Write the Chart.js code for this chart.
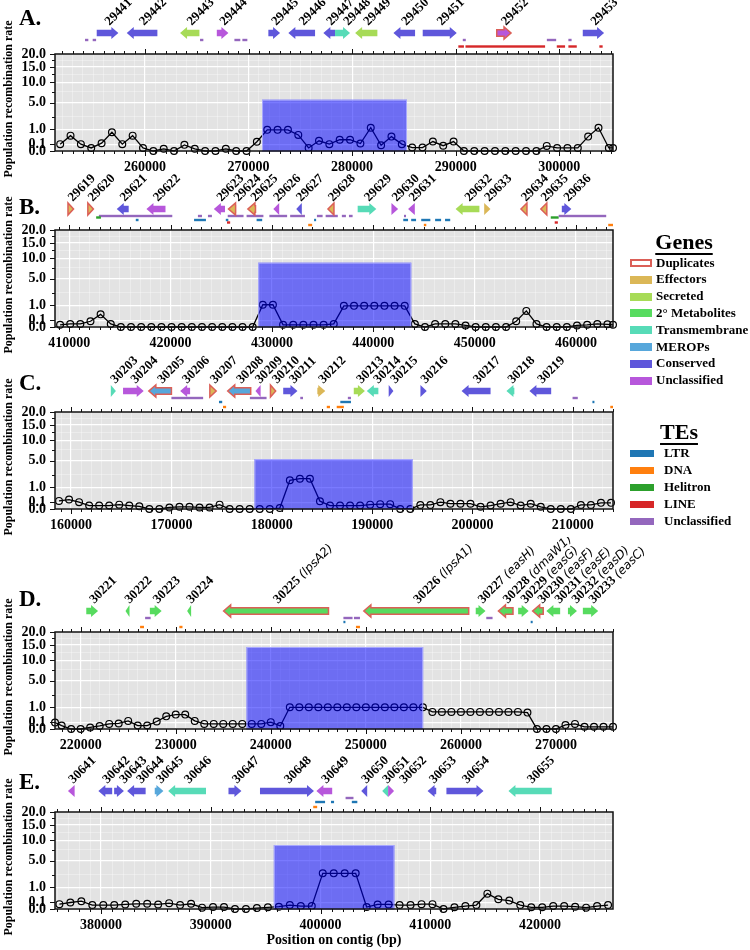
<!DOCTYPE html>
<html>
<head>
<meta charset="utf-8">
<title>Population recombination rate</title>
<script src="https://cdn.jsdelivr.net/npm/chart.js@4.4.1/dist/chart.umd.min.js"></script>
<style>
html,body{margin:0;padding:0;background:#fff;}
body{position:relative;width:750px;height:950px;overflow:hidden;font-family:'Liberation Serif','Times New Roman',serif;color:#000;}
canvas{position:absolute;left:0;}
.letter{position:absolute;left:19px;font-weight:bold;font-size:23px;line-height:23px;}
.ytitle{position:absolute;width:180px;height:14px;line-height:14px;font-weight:bold;font-size:12px;text-align:center;transform:rotate(-90deg);white-space:nowrap;}
.lg-head{position:absolute;width:110px;text-align:center;font-weight:bold;font-size:22px;line-height:22px;text-decoration:underline;text-underline-offset:4px;text-decoration-thickness:1.5px;}
.lg-item{position:absolute;font-weight:bold;font-size:13px;line-height:14px;white-space:nowrap;}
.sw{position:absolute;box-sizing:border-box;}
</style>
</head>
<body>
<script>
// ---------------- DATA ----------------
const A_pos = [251800,252800,253800,254800,255800,256800,257800,258800,259800,260800,
261800,262800,263800,264800,265800,266800,267800,268800,269800,270800,
271800,272800,273800,274800,275800,276800,277800,278800,279800,280800,
281800,282800,283800,284800,285800,286800,287800,288800,289800,290800,
291800,292800,293800,294800,295800,296800,297800,298800,299800,300800,
301800,302800,303800,304800,305200];
const A_rate = [0.10,0.50,0.10,0.02,0.13,0.75,0.10,0.50,0.02,0.00,
0.01,0.00,0.08,0.01,0.00,0.00,0.01,0.00,0.00,0.18,
0.95,0.95,0.95,0.55,0.02,0.22,0.10,0.27,0.27,0.12,
1.15,0.07,0.44,0.10,0.025,0.025,0.19,0.06,0.19,0,
0,0,0,0,0,0,0,0.055,0.02,0.02,
0.02,0.44,1.15,0.02,0.02];
const A_region = [271300, 285300, 5.6];

const B_pos = [409100,410100,411100,412100,413100,414100,415100,416100,417100,418100,
419100,420100,421100,422100,423100,424100,425100,426100,427100,428100,
429100,430100,431100,432100,433100,434100,435100,436100,437100,438100,
439100,440100,441100,442100,443100,444100,445100,446100,447100,448100,
449100,450100,451100,452100,453100,454100,455100,456100,457100,458100,
459100,460100,461100,462100,463100,463650];
const B_rate = [0.01,0.02,0.02,0.07,0.34,0.02,0,0,0,0,
0,0,0,0,0,0,0,0,0,0,
1.05,1.05,0.01,0.01,0.01,0.01,0.01,0.02,0.95,0.95,
0.95,0.95,0.95,0.95,0.95,0.02,0,0.02,0.02,0.02,
0.005,0,0,0,0,0.07,0.55,0.02,0,0,
0,0.005,0.01,0.02,0.015,0.01];
const B_region = [428650, 443750, 8.8];

const C_pos = [158800,159800,160800,161800,162800,163800,164800,165800,166800,167800,
168800,169800,170800,171800,172800,173800,174800,175800,176800,177800,
178800,179800,180800,181800,182800,183800,184800,185800,186800,187800,
188800,189800,190800,191800,192800,193800,194800,195800,196800,197800,
198800,199800,200800,201800,202800,203800,204800,205800,206800,207800,
208800,209800,210800,211800,212800,213800];
const C_rate = [0.14,0.19,0.10,0.025,0.025,0.025,0.04,0.025,0.015,0,
0,0.005,0.01,0.01,0.005,0.005,0.04,0,0,0,
0,0,0.002,1.75,1.95,1.95,0.13,0.025,0.025,0.025,
0.025,0.04,0.05,0.05,0,0,0.035,0.035,0.10,0.06,
0.06,0.06,0.01,0.025,0.06,0.10,0.025,0.06,0.01,0,
0,0,0.035,0.035,0.08,0.08];
const C_region = [178270, 194050, 5.3];

const D_pos = [217300,218000,219000,220000,221000,222000,223000,224000,225000,226000,
227000,228000,229000,230000,231000,232000,233000,234000,235000,236000,
237000,238000,239000,240000,241000,242000,243000,244000,245000,246000,
247000,248000,249000,250000,251000,252000,253000,254000,255000,256000,
257000,258000,259000,260000,261000,262000,263000,264000,265000,266000,
267000,268000,269000,270000,271000,272000,273000,274000,275000,276000];
const D_rate = [0.09,0.025,0,0,0.005,0.02,0.055,0.065,0.14,0.025,
0.025,0.12,0.34,0.44,0.44,0.14,0.055,0.055,0.055,0.055,
0.055,0.055,0.055,0.10,0.02,1.0,1.0,1.0,1.0,1.0,
1.0,1.0,1.0,1.0,1.0,1.0,1.0,1.0,1.0,1.0,
0.62,0.62,0.62,0.62,0.62,0.62,0.62,0.62,0.62,0.62,
0.57,0,0,0,0.035,0.055,0.01,0.01,0.01,0.01];
const D_region = [237440, 256030, 14.3];

const E_pos = [376200,377200,378200,379200,380200,381200,382200,383200,384200,385200,
386200,387200,388200,389200,390200,391200,392200,393200,394200,395200,
396200,397200,398200,399200,400200,401200,402200,403200,404200,405200,
406200,407200,408200,409200,410200,411200,412200,413200,414200,415200,
416200,417200,418200,419200,420200,421200,422200,423200,424200,425200,
426200];
const E_rate = [0.05,0.09,0.13,0.033,0.033,0.033,0.044,0.058,0.058,0.044,
0.073,0.033,0.058,0.004,0.008,0.008,0,0,0.002,0.006,
0.011,0.033,0.018,0.018,2.7,2.7,2.7,2.7,0.008,0.044,
0.044,0.033,0.033,0.05,0.05,0,0.006,0.018,0.033,0.5,
0.2,0.15,0.033,0.006,0.006,0.018,0.018,0.011,0.004,0.018,
0.033];
const E_region = [395740, 406730, 8.7];

// genes: [label, start, end, strand, class, duplicate, name]
const A_genes = [
 ['29441',255330,257420,1,'Conserved',0],['29442',258230,261190,-1,'Conserved',0],
 ['29443',263380,265250,-1,'Secreted',0],['29444',266930,268050,1,'Unclassified',0],
 ['29445',271910,273040,1,'Conserved',0],['29446',273840,276420,-1,'Conserved',0],
 ['29447',277220,278350,-1,'Conserved',0],['29448',278350,279800,1,'Transmembrane',0],
 ['29449',280290,282440,-1,'Secreted',0],['29450',283990,286080,-1,'Conserved',0],
 ['29451',286820,290110,1,'Conserved',0],['29452',293970,295350,1,'Unclassified',1],
 ['29453',302280,304340,1,'Conserved',0]];
const A_tes = [
 ['Unclassified',254200,254520],['Unclassified',254940,255270],['Unclassified',265310,265630],
 ['Unclassified',268630,269200],['Unclassified',269400,269880],['Unclassified',290690,290980],
 ['LINE',290260,290800],['LINE',290950,298640],['Unclassified',298810,299710],
 ['LINE',299770,300570],['LINE',300890,301700],['Unclassified',300890,301200],['LINE',303880,304200]];

const B_genes = [
 ['29619',409880,410430,1,'Effectors',1],['29620',411840,412390,1,'Effectors',1],
 ['29621',414690,415870,-1,'Conserved',0],['29622',417620,419500,-1,'Unclassified',0],
 ['29623',424270,425370,-1,'Unclassified',0],['29624',425720,426420,-1,'Effectors',1],
 ['29625',427630,428380,-1,'Effectors',1],['29626',430140,430720,-1,'Unclassified',0],
 ['29627',432400,432950,-1,'Conserved',0],['29628',435530,436120,-1,'Effectors',1],
 ['29629',438460,440300,1,'Transmembrane',0],['29630',441790,442450,1,'Unclassified',0],
 ['29631',443430,444100,-1,'Unclassified',0],['29632',448120,450470,-1,'Secreted',0],
 ['29633',450940,451560,1,'Effectors',0],['29634',454570,455160,-1,'Effectors',1],
 ['29635',456530,457120,-1,'Effectors',1],['29636',458600,459540,1,'Conserved',0]];
const B_tes = [
 ['Unclassified',412930,420170],['Helitron',412660,413130],['LTR',416570,416840],
 ['Unclassified',422700,423100],['Unclassified',423690,424080],['LTR',422320,423490],
 ['LTR',425450,425700],['LINE',425570,425880],['Unclassified',425640,427200],
 ['Unclassified',427500,429160],['LTR',428490,429040],['Unclassified',429750,431500],
 ['Unclassified',431800,433260],['DNA',433580,433970],['LTR',434160,434360],
 ['Unclassified',434440,435000],['Unclassified',435300,436500],['Unclassified',436900,437300],
 ['Unclassified',437600,437960],['Unclassified',443030,443230],['LTR',442960,443430],
 ['LTR',443740,444220],['LTR',444730,445630],['LTR',446100,446690],['LTR',447080,447590],
 ['DNA',444990,445230],['Helitron',457510,458290],['LINE',457900,458210],
 ['Unclassified',458290,462980],['DNA',463180,463650]];

const C_genes = [
 ['30203',163960,164470,1,'Transmembrane',0],['30204',165180,167240,1,'Unclassified',0],
 ['30205',167750,170000,-1,'MEROPs',1],['30206',170870,171860,-1,'Unclassified',0],
 ['30207',173830,174460,1,'Effectors',1],['30208',175610,177900,-1,'MEROPs',1],
 ['30209',178370,178890,-1,'Unclassified',0],['30210',179870,180390,1,'Effectors',1],
 ['30211',181140,182560,1,'Conserved',0],['30212',184540,185330,1,'Effectors',0],
 ['30213',188170,189280,1,'Secreted',0],['30214',189470,190620,-1,'Transmembrane',0],
 ['30215',191650,192120,1,'Conserved',0],['30216',194810,195440,1,'Conserved',0],
 ['30217',198910,201800,-1,'Conserved',0],['30218',203380,204170,-1,'Transmembrane',0],
 ['30219',205670,207840,-1,'Conserved',0]];
const C_tes = [
 ['Unclassified',170000,173160],['LTR',174740,175060],['DNA',175140,175450],
 ['Unclassified',177820,179480],['Unclassified',182840,183110],['DNA',185480,185800],
 ['DNA',186470,187180],['LTR',186830,187890],['Unclassified',187580,187890],
 ['Unclassified',209970,210490],['LTR',211950,212110],['DNA',213730,214000]];

const D_genes = [
 ['30221',220590,221830,1,'Metabolites',0,''],['30222',224720,225130,-1,'Metabolites',0,''],
 ['30223',227280,228520,1,'Metabolites',0,''],['30224',231200,231620,-1,'Metabolites',0,''],
 ['30225',235040,246070,-1,'Metabolites',1,'lpsA2'],['30226',249790,260820,-1,'Metabolites',1,'lpsA1'],
 ['30227',261560,262590,1,'Metabolites',0,'easH'],['30228',263950,265480,-1,'Metabolites',1,'dmaW1'],
 ['30229',266020,267130,1,'Metabolites',0,'easG'],['30230',267550,268660,-1,'Metabolites',1,'easF'],
 ['30231',268990,270440,-1,'Metabolites',0,'easE'],['30232',271260,272210,1,'Metabolites',0,'easD'],
 ['30233',272830,274440,1,'Metabolites',0,'easC']];
const D_tes = [
 ['Unclassified',226780,227360],['DNA',226250,226660],['DNA',230380,230710],
 ['Unclassified',247640,248600],['Unclassified',248750,249380],['LTR',247640,247800],
 ['DNA',248960,249380],['Unclassified',262670,263330],['LTR',267340,267510]];

const E_genes = [
 ['30641',376980,377590,-1,'Unclassified',0],['30642',379750,381010,-1,'Conserved',0],
 ['30643',381190,382080,1,'Conserved',0],['30644',382370,384060,-1,'Conserved',0],
 ['30645',384890,385680,1,'MEROPs',0],['30646',386110,389560,-1,'Transmembrane',0],
 ['30647',391610,392790,1,'Conserved',0],['30648',394480,399400,1,'Conserved',0],
 ['30649',399620,401060,-1,'Unclassified',0],['30650',403710,404250,-1,'Conserved',0],
 ['30651',405620,406160,-1,'Transmembrane',0],['30652',406160,406700,1,'Unclassified',0],
 ['30653',409750,410540,-1,'Conserved',0],['30654',411470,414850,1,'Conserved',0],
 ['30655',417120,421070,-1,'Transmembrane',0]];
const E_tes = [
 ['LTR',399510,400410],['LTR',400950,401230],['DNA',399330,399690],
 ['Unclassified',402280,403000],['LTR',402850,403350]];

const Y_TICKS = [0, 0.1, 1, 2.5, 5, 7.5, 10, 12.5, 15, 17.5, 20];
const Y_LABELED = [0, 0.1, 1, 5, 10, 15, 20];

const GENE_LEGEND = ['Duplicates','Effectors','Secreted','2° Metabolites','Transmembrane','MEROPs','Conserved','Unclassified'];
const TE_LEGEND = ['LTR','DNA','Helitron','LINE','Unclassified'];

// ---------------- STYLE ----------------
const GENE_COLORS = {Effectors:'#dbb757', Secreted:'#a7db57', Metabolites:'#57db5f',
  Transmembrane:'#57dbb7', MEROPs:'#57a7db', Conserved:'#5f57db', Unclassified:'#b757db'};
const GENE_LEGEND_COLORS = [null,'#dbb757','#a7db57','#57db5f','#57dbb7','#57a7db','#5f57db','#b757db'];
const DUP_COLOR = '#db5f57';
const TE_COLORS = {LTR:'#1f77b4', DNA:'#ff7f0e', Helitron:'#2ca02c', LINE:'#d62728', Unclassified:'#9467bd'};
const TE_ROW = {Unclassified:7, Helitron:8.5, LTR:11, LINE:13.5, DNA:16};
const SERIF = "'Liberation Serif','Times New Roman',serif";
const PLOT_H = 97;

// ---------------- SQRT SCALE ----------------
class SqrtScale extends Chart.LinearScale {
  getPixelForValue(value) {
    const a = Math.sqrt(Math.max(this.min, 0)), b = Math.sqrt(this.max);
    const v = Math.sqrt(Math.max(0, +value || 0));
    return this.getPixelForDecimal((v - a) / (b - a));
  }
  getValueForPixel(pixel) {
    const a = Math.sqrt(Math.max(this.min, 0)), b = Math.sqrt(this.max);
    const s = a + this.getDecimalForPixel(pixel) * (b - a);
    return s * s;
  }
}
SqrtScale.id = 'sqrt';
SqrtScale.defaults = Chart.LinearScale.defaults;
Chart.register(SqrtScale);

// ---------------- DRAW HELPERS ----------------
function drawArrow(ctx, x0, x1, yc, strand, fill, dup) {
  let len = x1 - x0;
  if (len < 4) { const c = (x0 + x1) / 2; x0 = c - 2; x1 = c + 2; len = 4; }
  const head = Math.min(7, len), bh = 3.3, hh = 6;
  ctx.beginPath();
  if (strand > 0) {
    const hx = x1 - head;
    ctx.moveTo(x0, yc - bh); ctx.lineTo(hx, yc - bh); ctx.lineTo(hx, yc - hh);
    ctx.lineTo(x1, yc); ctx.lineTo(hx, yc + hh); ctx.lineTo(hx, yc + bh); ctx.lineTo(x0, yc + bh);
  } else {
    const hx = x0 + head;
    ctx.moveTo(x1, yc - bh); ctx.lineTo(hx, yc - bh); ctx.lineTo(hx, yc - hh);
    ctx.lineTo(x0, yc); ctx.lineTo(hx, yc + hh); ctx.lineTo(hx, yc + bh); ctx.lineTo(x1, yc + bh);
  }
  ctx.closePath();
  ctx.fillStyle = fill; ctx.fill();
  if (dup) { ctx.strokeStyle = DUP_COLOR; ctx.lineWidth = 1.5; ctx.stroke(); }
}

function decoPlugin(p) {
  return {
    id: 'deco' + p.key,
    beforeDraw(chart) {
      const {ctx, chartArea: a} = chart;
      ctx.save(); ctx.fillStyle = '#e3e3e3';
      ctx.fillRect(a.left, a.top, a.right - a.left, a.bottom - a.top); ctx.restore();
    },
    afterDatasetsDraw(chart) {
      const {ctx, chartArea: a, scales: {x, y}} = chart;
      ctx.save();
      // highlighted region
      const rx0 = x.getPixelForValue(p.region[0]), rx1 = x.getPixelForValue(p.region[1]);
      const ry = y.getPixelForValue(p.region[2]), rb = y.getPixelForValue(0);
      ctx.fillStyle = 'rgba(0,0,255,0.52)';
      ctx.fillRect(rx0, ry, rx1 - rx0, rb - ry);
      ctx.strokeStyle = 'rgba(175,175,255,0.9)'; ctx.lineWidth = 1;
      ctx.strokeRect(rx0 + 0.5, ry + 0.5, rx1 - rx0 - 1, rb - ry);
      // frame
      ctx.strokeStyle = '#111'; ctx.lineWidth = 1.5;
      ctx.strokeRect(a.left, a.top, a.right - a.left, a.bottom - a.top);
      // ticks
      ctx.lineWidth = 1; ctx.beginPath();
      x.ticks.forEach(t => {
        const px = Math.round(x.getPixelForValue(t.value)) + 0.5;
        const L = t.value % 10000 === 0 ? 5 : 3;
        ctx.moveTo(px, a.top); ctx.lineTo(px, a.top - L);
        ctx.moveTo(px, a.bottom); ctx.lineTo(px, a.bottom + L);
      });
      Y_TICKS.forEach(v => {
        const py = Math.round(y.getPixelForValue(v)) + 0.5;
        const L = Y_LABELED.includes(v) ? 5 : 3;
        ctx.moveTo(a.left, py); ctx.lineTo(a.left - L, py);
      });
      ctx.stroke();
      // gene track
      const ay = a.top - 21;
      p.tes.forEach(([cls, s, e]) => {
        const x0 = x.getPixelForValue(s), x1 = Math.min(x.getPixelForValue(e), a.right + 2);
        ctx.fillStyle = TE_COLORS[cls];
        ctx.fillRect(x0, ay + TE_ROW[cls] - 1.2, Math.max(2, x1 - x0), 2.4);
      });
      const items = p.genes.map(g => ({g, x0: x.getPixelForValue(g[1]), x1: x.getPixelForValue(g[2])}))
        .sort((m, n) => (m.x0 + m.x1) - (n.x0 + n.x1));
      items.forEach(it => drawArrow(ctx, it.x0, it.x1, ay, it.g[3], GENE_COLORS[it.g[4]], it.g[5]));
      let prev = -1e9;
      ctx.fillStyle = '#000'; ctx.textAlign = 'left'; ctx.textBaseline = 'alphabetic';
      items.forEach(it => {
        const c = (it.x0 + it.x1) / 2 + 2;
        const lx = Math.max(c, prev + 17); prev = lx;
        ctx.save();
        ctx.translate(lx, ay - 7); ctx.rotate(-Math.PI / 4);
        ctx.font = 'bold 13px ' + SERIF;
        ctx.fillText(it.g[0], 0, 0);
        if (it.g[6]) {
          const w = ctx.measureText(it.g[0] + ' ').width;
          ctx.font = "italic 12px 'DejaVu Sans', sans-serif";
          ctx.fillText('(' + it.g[6] + ')', w, 0);
        }
        ctx.restore();
      });
      ctx.restore();
    }
  };
}

// ---------------- PANELS ----------------
const PANELS = [
  {key:'A', pos:A_pos, rate:A_rate, region:A_region, genes:A_genes, tes:A_tes, xmin:251300, xmax:305200, top:54,  pad:54, xh:26, letterY:17},
  {key:'B', pos:B_pos, rate:B_rate, region:B_region, genes:B_genes, tes:B_tes, xmin:408600, xmax:463650, top:230, pad:80, xh:26, letterY:206},
  {key:'C', pos:C_pos, rate:C_rate, region:C_region, genes:C_genes, tes:C_tes, xmin:158400, xmax:214000, top:412, pad:80, xh:26, letterY:382},
  {key:'D', pos:D_pos, rate:D_rate, region:D_region, genes:D_genes, tes:D_tes, xmin:217300, xmax:276000, top:632, pad:95, xh:26, letterY:598},
  {key:'E', pos:E_pos, rate:E_rate, region:E_region, genes:E_genes, tes:E_tes, xmin:375800, xmax:426650, top:812, pad:80, xh:40, letterY:781, xtitle:true}
];

function buildPanel(p) {
  const H = p.pad + PLOT_H + p.xh;
  const cv = document.createElement('canvas');
  cv.width = 750; cv.height = H;
  cv.style.width = '750px'; cv.style.height = H + 'px';
  cv.style.top = (p.top - p.pad) + 'px';
  document.body.appendChild(cv);

  const tickFont = {family: SERIF, weight: 'bold', size: 14};
  new Chart(cv, {
    type: 'line',
    data: {datasets: [{
      data: p.pos.map((xv, i) => ({x: xv, y: p.rate[i]})),
      borderColor: '#000', borderWidth: 1.3, tension: 0, fill: false,
      pointRadius: 3.4, pointBorderWidth: 1.2, pointBorderColor: '#000',
      pointBackgroundColor: 'rgba(0,0,0,0)', clip: false
    }]},
    options: {
      responsive: false, animation: false, events: [],
      layout: {padding: {top: p.pad, left: 0, right: 137, bottom: 0}},
      plugins: {legend: {display: false}, tooltip: {enabled: false}, title: {display: false}},
      scales: {
        x: {
          type: 'linear', min: p.xmin, max: p.xmax,
          afterBuildTicks: s => {
            const t = [];
            for (let v = Math.ceil(p.xmin / 1000) * 1000; v <= p.xmax; v += 1000) t.push({value: v});
            s.ticks = t;
          },
          afterFit: s => { s.height = p.xh; },
          border: {display: false},
          grid: {
            drawTicks: false,
            color: c => (c.tick && c.tick.value % 10000 === 0) ? '#ffffff' : 'rgba(255,255,255,0.55)',
            lineWidth: c => (c.tick && c.tick.value % 10000 === 0) ? 1.2 : 0.6
          },
          ticks: {
            autoSkip: false, maxRotation: 0, minRotation: 0, padding: 8, color: '#000', font: tickFont,
            callback: v => (v % 10000 === 0 ? String(v) : '')
          },
          title: {display: !!p.xtitle, text: 'Position on contig (bp)', color: '#000',
                  font: {family: SERIF, weight: 'bold', size: 14}, padding: 0}
        },
        y: {
          type: 'sqrt', min: 0, max: 20,
          afterBuildTicks: s => { s.ticks = Y_TICKS.map(v => ({value: v})); },
          afterFit: s => { s.width = 55; },
          border: {display: false},
          grid: {
            drawTicks: false,
            color: c => (c.tick && Y_LABELED.includes(c.tick.value)) ? '#ffffff' : 'rgba(255,255,255,0.55)',
            lineWidth: c => (c.tick && Y_LABELED.includes(c.tick.value)) ? 1.2 : 0.6
          },
          ticks: {
            autoSkip: false, padding: 9, color: '#000', font: tickFont,
            callback: v => (Y_LABELED.includes(v) ? v.toFixed(1) : '')
          }
        }
      }
    },
    plugins: [decoPlugin(p)]
  });

  const L = document.createElement('div');
  L.className = 'letter'; L.textContent = p.key + '.';
  L.style.top = (p.letterY - 11.5) + 'px';
  document.body.appendChild(L);

  const T = document.createElement('div');
  T.className = 'ytitle'; T.textContent = 'Population recombination rate';
  T.style.left = (8 - 90) + 'px';
  T.style.top = (p.top + PLOT_H / 2 - 4 - 7) + 'px';
  document.body.appendChild(T);
}
PANELS.forEach(buildPanel);

// ---------------- LEGEND ----------------
function addDiv(cls, text, style) {
  const d = document.createElement('div');
  d.className = cls; if (text) d.textContent = text;
  Object.assign(d.style, style);
  document.body.appendChild(d);
}
addDiv('lg-head', 'Genes', {left: '629px', top: '231px'});
GENE_LEGEND.forEach((name, i) => {
  const yc = 263 + i * 16.8;
  const st = {left: '630px', top: (yc - 4) + 'px', width: '22px', height: '8px'};
  if (i === 0) { st.background = '#fff'; st.border = '2px solid ' + DUP_COLOR; }
  else st.background = GENE_LEGEND_COLORS[i];
  addDiv('sw', '', st);
  addDiv('lg-item', name, {left: '656px', top: (yc - 7.5) + 'px'});
});
addDiv('lg-head', 'TEs', {left: '624px', top: '421px'});
TE_LEGEND.forEach((name, i) => {
  const yc = 453 + i * 17.1;
  addDiv('sw', '', {left: '630px', top: (yc - 3.5) + 'px', width: '24px', height: '7px', background: TE_COLORS[name]});
  addDiv('lg-item', name, {left: '664px', top: (yc - 7.5) + 'px'});
});
</script>
</body>
</html>
